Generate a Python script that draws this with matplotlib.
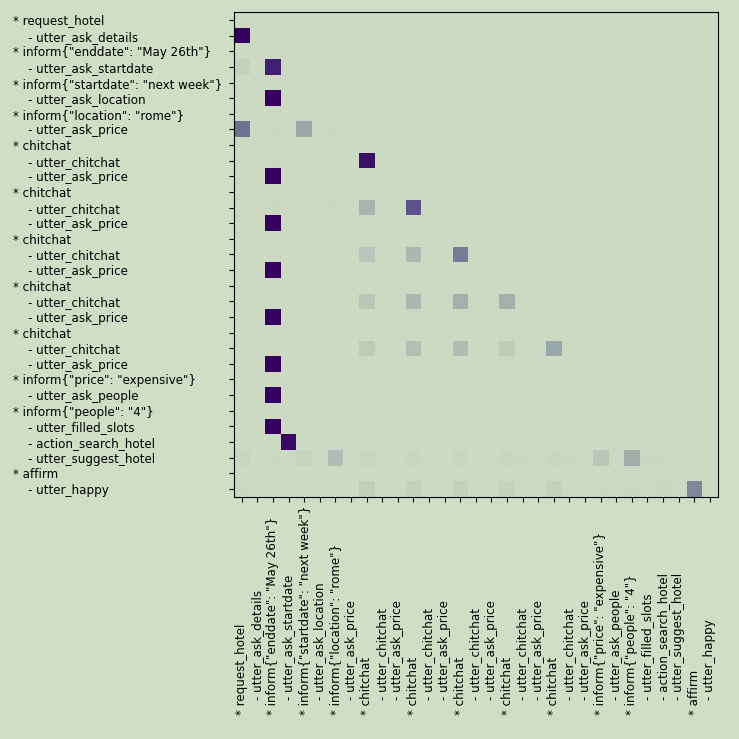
import numpy as np
import matplotlib
matplotlib.use("Agg")
import matplotlib.pyplot as plt
from matplotlib.colors import LinearSegmentedColormap

# story steps (user turns with "*", bot actions indented)
labels = [
    '* request_hotel',
    '    - utter_ask_details',
    '* inform{"enddate": "May 26th"}',
    '    - utter_ask_startdate',
    '* inform{"startdate": "next week"}',
    '    - utter_ask_location',
    '* inform{"location": "rome"}',
    '    - utter_ask_price',
    '* chitchat',
    '    - utter_chitchat',
    '    - utter_ask_price',
    '* chitchat',
    '    - utter_chitchat',
    '    - utter_ask_price',
    '* chitchat',
    '    - utter_chitchat',
    '    - utter_ask_price',
    '* chitchat',
    '    - utter_chitchat',
    '    - utter_ask_price',
    '* chitchat',
    '    - utter_chitchat',
    '    - utter_ask_price',
    '* inform{"price": "expensive"}',
    '    - utter_ask_people',
    '* inform{"people": "4"}',
    '    - utter_filled_slots',
    '    - action_search_hotel',
    '    - utter_suggest_hotel',
    '* affirm',
    '    - utter_happy',
]

# non-zero attention weights (row = step, col = attended step)
att_rows = [1,
            3, 3,
            5,
            7, 7, 7, 7,
            9, 9, 9, 9, 9,
            10,
            12, 12, 12, 12,
            13,
            15, 15, 15,
            16, 16,
            18, 18, 18, 18,
            19, 19,
            21, 21, 21, 21, 21,
            22, 22,
            24,
            26,
            27, 27, 27,
            28, 28, 28, 28, 28, 28, 28, 28, 28, 28, 28, 28, 28, 28, 28,
            30, 30, 30, 30, 30, 30, 30, 30, 30, 30, 30]
att_cols = [0,
            0, 2,
            2,
            0, 2, 4, 6,
            2, 4, 5, 6, 8,
            2,
            2, 6, 8, 11,
            2,
            8, 11, 14,
            2, 4,
            8, 11, 14, 17,
            2, 4,
            8, 11, 14, 17, 20,
            2, 4,
            2,
            2,
            3, 5, 24,
            0, 2, 4, 6, 8, 11, 14, 17, 18, 20, 21, 23, 25, 26, 27,
            0, 6, 8, 11, 14, 17, 20, 23, 25, 27, 29]
att_vals = [1.0,
            0.08, 0.90,
            1.0,
            0.62, 0.02, 0.40, 0.02,
            0.025, 0.015, 0.015, 0.015, 0.95,
            1.0,
            0.02, 0.025, 0.30, 0.73,
            1.0,
            0.18, 0.28, 0.58,
            1.0, 0.015,
            0.17, 0.28, 0.33, 0.33,
            1.0, 0.015,
            0.14, 0.23, 0.24, 0.14, 0.40,
            1.0, 0.015,
            1.0,
            1.0,
            0.97, 0.015, 0.015,
            0.05, 0.035, 0.06, 0.24, 0.05, 0.045, 0.045, 0.045, 0.02, 0.045, 0.02, 0.17, 0.35, 0.02, 0.02,
            0.02, 0.015, 0.11, 0.10, 0.10, 0.08, 0.10, 0.03, 0.035, 0.045, 0.53]

BG = "#cfdfc6"

n = len(labels)
att = np.zeros((n, n))
att[att_rows, att_cols] = att_vals

cmap = LinearSegmentedColormap.from_list(
    "att", [(0.0, "#cddac3"), (0.1, "#c4d1bd"), (0.2, "#b6c3b7"), (0.4, "#9aa7a8"),
            (0.6, "#717895"), (0.8, "#52408a"), (1.0, "#35005e")])

fig = plt.figure(figsize=(7.39, 7.39), dpi=100, facecolor=BG)
ax = fig.add_axes([0.3166, 0.3279, 0.6546, 0.6555])
ax.imshow(att, cmap=cmap, vmin=0, vmax=1, aspect="auto", interpolation="nearest")

ax.set_xticks(range(n))
ax.set_xticklabels(labels, rotation=90, va="bottom", fontsize=8.6)
ax.set_yticks(range(n))
ax.set_yticklabels(labels, ha="left", fontsize=8.6)
ax.tick_params(axis="x", pad=154)
ax.tick_params(axis="y", pad=155.6)

fig.savefig("out.png", dpi=100, facecolor=BG)
